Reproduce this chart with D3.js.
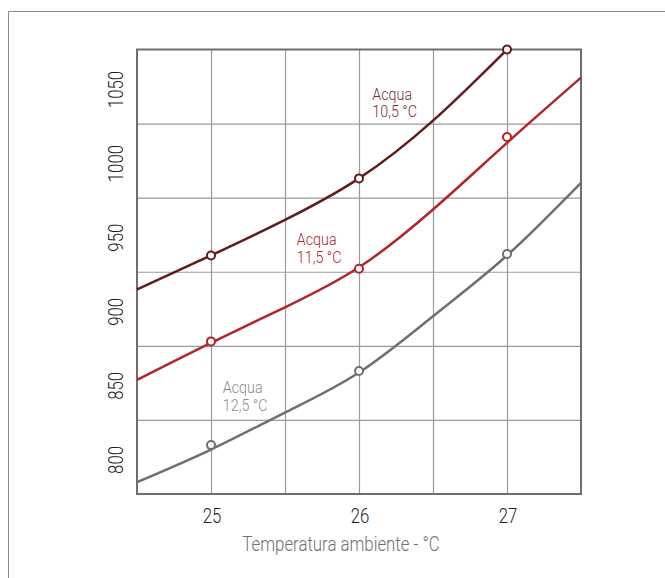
<!DOCTYPE html>
<html>
<head>
<meta charset="utf-8">
<script src="https://cdn.jsdelivr.net/npm/d3@7"></script>
<style>
  html, body { margin: 0; padding: 0; background: #fff; }
  svg { display: block; font-family: Roboto, "Liberation Sans Narrow", sans-serif; font-weight: 300; }
</style>
</head>
<body>
<svg id="chart" width="665" height="578"></svg>
<script>
// Ambient temperature (°C) on the x axis
const xTicks = [25, 26, 27];
const xGrid = [25, 25.5, 26, 26.5, 27];
const xTitle = "Temperatura ambiente - °C";

// Vertical axis: labels and grid lines
const yTicks = [800, 850, 900, 950, 1000, 1050];
const yGrid = [825, 875, 925, 975, 1025];

// Fitted curves, sampled every half degree
const curveX = [24.5, 25, 25.5, 26, 26.5, 27, 27.5];
const curve105 = [913, 936, 960, 988, 1027, 1075, null];
const curve115 = [852, 877, 901, 928, 967, 1012, 1056];
const curve125 = [783, 805, 830, 857, 895, 936, 985];

// Measured points
const pointX = [25, 26, 27];
const points105 = [936, 988, 1075];
const points115 = [878, 927, 1016];
const points125 = [808, 858, 937];

// Series labels
const seriesNames = [["Acqua", "10,5 °C"], ["Acqua", "11,5 °C"], ["Acqua", "12,5 °C"]];

const svg = d3.select("#chart");
const SX = 0.84; // horizontal condensing of the type

// text helper: places a condensed string at (x, y), optionally rotated
function label(parent, str, px, py, opts = {}) {
  const rot = opts.rotate ? ` rotate(${opts.rotate})` : "";
  return parent.append("text")
    .attr("transform", `translate(${px},${py})${rot} scale(${SX},1)`)
    .attr("text-anchor", opts.anchor || "start")
    .attr("font-size", opts.size || 16)
    .attr("fill", opts.fill || "#222")
    .text(str);
}

// outer frame
svg.append("path")
  .attr("d", "M8.5,578 V11.5 H665")
  .attr("fill", "none")
  .attr("stroke", "#8a8a8a")
  .attr("stroke-width", 1);

const L = 137, R = 581, T = 49.5, B = 494;
const x = d3.scaleLinear().domain([24.5, 27.5]).range([L, R]);
const y = d3.scaleLinear().domain([775, 1075]).range([B, T]);

// grid
const grid = svg.append("g");
grid.append("g")
  .attr("transform", `translate(0,${B})`)
  .call(d3.axisBottom(x).tickValues(xGrid).tickSize(-(B - T)).tickFormat(""))
  .call(g => g.select(".domain").remove())
  .call(g => g.selectAll("line").attr("stroke", "#9a9a9a").attr("stroke-width", 1.2));
grid.append("g")
  .attr("transform", `translate(${L},0)`)
  .call(d3.axisLeft(y).tickValues(yGrid).tickSize(-(R - L)).tickFormat(""))
  .call(g => g.select(".domain").remove())
  .call(g => g.selectAll("line").attr("stroke", "#9a9a9a").attr("stroke-width", 1.2));

// plot border
svg.append("rect")
  .attr("x", L).attr("y", T)
  .attr("width", R - L).attr("height", B - T)
  .attr("fill", "none")
  .attr("stroke", "#6e6e6e")
  .attr("stroke-width", 2);

// x tick labels
const xLab = svg.append("g");
xTicks.forEach(t => label(xLab, d3.format("d")(t), x(t) + 1, 523, { anchor: "middle", size: 20, fill: "#1e1e1e" }));

// y tick labels (rotated)
const yLab = svg.append("g");
yTicks.forEach(t => label(yLab, String(t), 123, y(t) + 3, { anchor: "middle", size: 20, rotate: -90, fill: "#1e1e1e" }));

// x axis title
label(svg, xTitle, 341, 551, { anchor: "middle", size: 20, fill: "#6f6f6f" });

// curves and points
const series = [
  { curve: curve105, points: points105, color: "#621c1c", label: seriesNames[0], lx: 26.09, ly: 1041, lcolor: "#7a2d2d" },
  { curve: curve115, points: points115, color: "#b0262a", label: seriesNames[1], lx: 25.58, ly: 943, lcolor: "#b0262a" },
  { curve: curve125, points: points125, color: "#6f6f6f", label: seriesNames[2], lx: 25.08, ly: 843, lcolor: "#8a8a8a" }
];

const line = d3.line()
  .defined(d => d[1] != null)
  .x(d => x(d[0]))
  .y(d => y(d[1]))
  .curve(d3.curveNatural);

series.forEach(s => {
  svg.append("path")
    .datum(curveX.map((xv, i) => [xv, s.curve[i]]).filter(d => d[1] != null))
    .attr("d", line)
    .attr("fill", "none")
    .attr("stroke", s.color)
    .attr("stroke-width", 2.5);

  svg.append("g")
    .selectAll("circle")
    .data(pointX.map((xv, i) => [xv, s.points[i]]))
    .join("circle")
    .attr("cx", d => x(d[0]))
    .attr("cy", d => y(d[1]))
    .attr("r", 4)
    .attr("fill", "#fff")
    .attr("stroke", s.color)
    .attr("stroke-width", 2);

  s.label.forEach((txt, i) => {
    label(svg, txt, x(s.lx), y(s.ly) + i * 17.5, { size: 17, fill: s.lcolor });
  });
});
</script>
</body>
</html>
